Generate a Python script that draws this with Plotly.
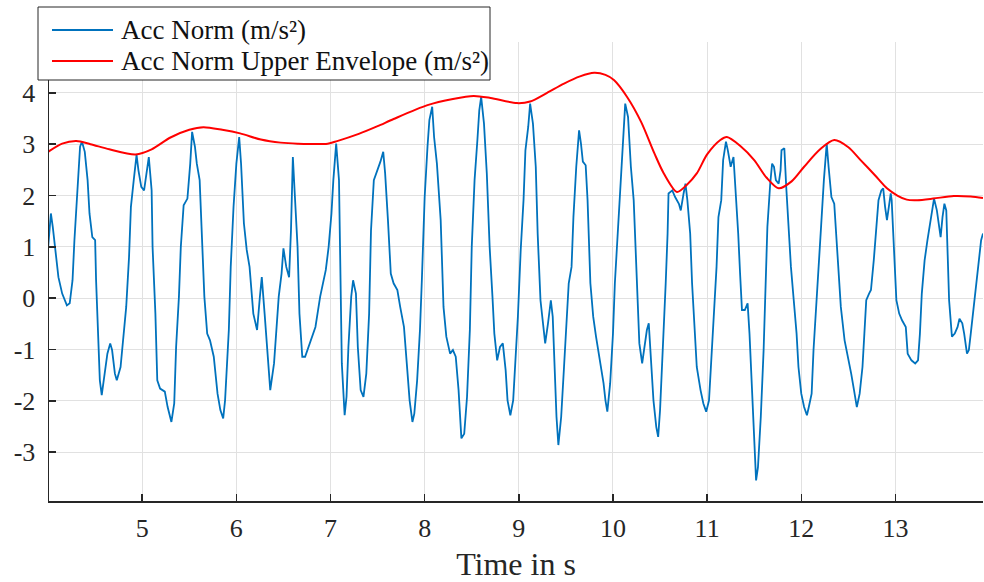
import plotly.graph_objects as go

# ---- data (rows of 10 pairs) ----
acc_t = [
    4.00, 4.03, 4.05, 4.09, 4.11, 4.15, 4.20, 4.23, 4.26, 4.28,
    4.31, 4.34, 4.36, 4.39, 4.42, 4.44, 4.47, 4.50, 4.51, 4.53,
    4.55, 4.57, 4.60, 4.63, 4.66, 4.68, 4.71, 4.73, 4.77, 4.80,
    4.83, 4.86, 4.88, 4.91, 4.94, 4.96, 4.99, 5.02, 5.05, 5.07,
    5.10, 5.11, 5.14, 5.16, 5.19, 5.24, 5.27, 5.31, 5.34, 5.36,
    5.39, 5.41, 5.44, 5.48, 5.51, 5.53, 5.56, 5.58, 5.61, 5.64,
    5.66, 5.69, 5.72, 5.76, 5.80, 5.83, 5.86, 5.88, 5.92, 5.94,
    5.97, 6.00, 6.03, 6.05, 6.08, 6.11, 6.14, 6.18, 6.22, 6.25,
    6.27, 6.30, 6.33, 6.36, 6.40, 6.43, 6.45, 6.48, 6.50, 6.53,
    6.56, 6.58, 6.60, 6.62, 6.65, 6.67, 6.70, 6.73, 6.79, 6.84,
    6.89, 6.95, 6.98, 7.01, 7.03, 7.06, 7.09, 7.11, 7.12, 7.15,
    7.17, 7.19, 7.22, 7.24, 7.27, 7.29, 7.32, 7.35, 7.38, 7.41,
    7.43, 7.46, 7.50, 7.53, 7.56, 7.58, 7.61, 7.64, 7.67, 7.71,
    7.74, 7.78, 7.81, 7.84, 7.87, 7.89, 7.92, 7.95, 7.97, 8.00,
    8.03, 8.05, 8.08, 8.10, 8.13, 8.17, 8.20, 8.23, 8.27, 8.30,
    8.33, 8.36, 8.39, 8.42, 8.45, 8.48, 8.50, 8.53, 8.56, 8.58,
    8.60, 8.63, 8.66, 8.69, 8.72, 8.74, 8.77, 8.80, 8.83, 8.86,
    8.88, 8.91, 8.94, 8.96, 8.99, 9.02, 9.05, 9.07, 9.10, 9.12,
    9.15, 9.18, 9.20, 9.23, 9.26, 9.28, 9.31, 9.34, 9.36, 9.38,
    9.40, 9.42, 9.45, 9.48, 9.51, 9.53, 9.56, 9.58, 9.61, 9.64,
    9.66, 9.68, 9.71, 9.73, 9.76, 9.79, 9.82, 9.86, 9.90, 9.92,
    9.94, 9.97, 10.00, 10.02, 10.05, 10.08, 10.11, 10.13, 10.16, 10.19,
    10.22, 10.24, 10.26, 10.28, 10.31, 10.33, 10.36, 10.38, 10.40, 10.43,
    10.46, 10.48, 10.50, 10.53, 10.56, 10.58, 10.59, 10.63, 10.66, 10.70,
    10.72, 10.75, 10.77, 10.79, 10.82, 10.84, 10.87, 10.89, 10.93, 10.96,
    10.99, 11.02, 11.04, 11.07, 11.10, 11.12, 11.15, 11.17, 11.20, 11.22,
    11.25, 11.28, 11.30, 11.33, 11.35, 11.37, 11.40, 11.43, 11.45, 11.48,
    11.50, 11.52, 11.54, 11.57, 11.60, 11.62, 11.64, 11.67, 11.69, 11.71,
    11.73, 11.76, 11.78, 11.79, 11.82, 11.84, 11.87, 11.89, 11.92, 11.95,
    11.97, 12.00, 12.03, 12.06, 12.08, 12.11, 12.13, 12.16, 12.19, 12.21,
    12.24, 12.27, 12.29, 12.32, 12.35, 12.37, 12.40, 12.42, 12.46, 12.49,
    12.53, 12.56, 12.59, 12.62, 12.65, 12.67, 12.69, 12.72, 12.74, 12.77,
    12.80, 12.82, 12.85, 12.87, 12.89, 12.91, 12.93, 12.95, 12.96, 12.98,
    13.01, 13.04, 13.07, 13.11, 13.13, 13.17, 13.21, 13.24, 13.26, 13.28,
    13.31, 13.34, 13.36, 13.39, 13.41, 13.44, 13.46, 13.48, 13.50, 13.52,
    13.54, 13.55, 13.57, 13.60, 13.63, 13.66, 13.68, 13.71, 13.73, 13.76,
    13.78, 13.80, 13.83, 13.86, 13.88, 13.91, 13.93,
]
acc_norm = [
    0.97, 1.65, 1.39, 0.74, 0.41, 0.09, -0.14, -0.10, 0.35, 1.13,
    2.10, 2.95, 3.05, 2.85, 2.30, 1.65, 1.19, 1.13, 0.35, -0.62,
    -1.60, -1.89, -1.53, -1.08, -0.88, -1.01, -1.47, -1.60, -1.34, -0.82,
    -0.17, 0.80, 1.78, 2.30, 2.79, 2.49, 2.17, 2.10, 2.49, 2.75,
    2.10, 1.00, -0.30, -1.60, -1.76, -1.82, -2.12, -2.41, -2.05, -0.95,
    0.03, 1.00, 1.81, 1.94, 2.62, 3.24, 2.95, 2.62, 2.30, 1.00,
    0.03, -0.69, -0.82, -1.14, -1.86, -2.18, -2.34, -1.99, -0.62, 0.61,
    1.78, 2.62, 3.14, 2.62, 1.46, 0.94, 0.61, -0.30, -0.62, 0.03,
    0.41, -0.30, -1.10, -1.79, -1.27, -0.43, 0.03, 0.48, 0.97, 0.61,
    0.41, 1.32, 2.75, 2.04, 1.00, -0.30, -1.14, -1.14, -0.82, -0.56,
    0.03, 0.55, 1.00, 1.65, 2.30, 3.01, 2.30, 0.03, -1.27, -2.28,
    -1.92, -0.95, 0.03, 0.35, 0.09, -0.95, -1.79, -1.92, -1.47, -0.30,
    1.32, 2.30, 2.49, 2.66, 2.85, 2.43, 1.52, 0.48, 0.29, 0.16,
    -0.17, -0.56, -1.27, -1.99, -2.41, -2.25, -1.60, -0.62, 0.35, 1.97,
    2.95, 3.47, 3.73, 3.14, 2.62, 1.52, -0.17, -0.75, -1.08, -1.01,
    -1.14, -1.79, -2.73, -2.64, -1.92, -0.62, 1.00, 2.30, 3.08, 3.66,
    3.92, 3.40, 2.43, 1.00, 0.03, -0.69, -1.21, -0.95, -0.88, -1.40,
    -1.99, -2.28, -1.99, -1.34, -0.36, 0.94, 1.91, 2.88, 3.34, 3.79,
    3.40, 2.56, 1.26, -0.04, -0.62, -0.88, -0.49, -0.04, -0.36, -1.34,
    -2.31, -2.86, -2.31, -1.34, -0.36, 0.29, 0.61, 1.58, 2.56, 3.27,
    3.01, 2.66, 2.59, 1.91, 0.29, -0.36, -0.75, -1.21, -1.66, -1.99,
    -2.21, -1.66, -0.69, 0.29, 1.26, 2.23, 3.21, 3.79, 3.53, 2.56,
    1.91, 0.94, -0.04, -0.88, -1.27, -1.01, -0.62, -0.49, -1.01, -1.99,
    -2.51, -2.70, -2.18, -1.01, 0.29, 1.26, 2.04, 2.10, 1.97, 1.84,
    1.71, 2.04, 2.23, 1.91, 1.26, 0.29, -0.69, -1.34, -1.79, -2.05,
    -2.21, -1.99, -1.34, -0.36, 0.61, 1.58, 1.91, 2.69, 3.05, 2.88,
    2.56, 2.75, 2.17, 1.26, 0.48, -0.23, -0.23, -0.10, -0.69, -1.99,
    -2.96, -3.55, -3.29, -2.31, -1.01, 0.29, 1.39, 2.23, 2.62, 2.56,
    2.30, 2.23, 2.49, 2.88, 2.92, 2.17, 1.26, 0.61, -0.04, -0.69,
    -1.34, -1.86, -2.12, -2.28, -2.12, -1.86, -1.01, -0.17, 0.61, 1.39,
    2.30, 3.01, 2.56, 1.97, 1.84, 1.26, 0.41, -0.17, -0.82, -1.08,
    -1.47, -1.79, -2.12, -1.86, -1.34, -0.69, -0.04, 0.09, 0.16, 0.74,
    1.39, 1.91, 2.10, 2.14, 1.78, 1.52, 1.78, 2.04, 1.91, 1.07,
    -0.04, -0.30, -0.43, -0.56, -1.08, -1.21, -1.27, -1.21, -0.69, 0.09,
    0.74, 1.13, 1.39, 1.78, 1.94, 1.71, 1.39, 1.19, 1.58, 1.84,
    1.71, 0.94, -0.04, -0.75, -0.69, -0.56, -0.40, -0.49, -0.69, -1.08,
    -1.01, -0.69, -0.17, 0.29, 0.74, 1.13, 1.26,
]

env_t = [4.00, 4.15, 4.30, 4.45, 4.65, 4.93, 5.10, 5.30, 5.50, 5.65,
         5.85, 6.04, 6.26, 6.47, 6.65, 6.97, 7.07, 7.30, 7.50, 7.67,
         8.03, 8.30, 8.52, 8.70, 8.98, 9.12, 9.30, 9.48, 9.65, 9.80,
         9.92, 10.01, 10.15, 10.30, 10.44, 10.54, 10.68, 10.78, 10.89, 11.00,
         11.14, 11.21, 11.35, 11.50, 11.63, 11.76, 11.90, 12.03, 12.20, 12.35,
         12.50, 12.63, 12.78, 12.91, 13.02, 13.12, 13.23, 13.40, 13.62, 13.80,
         13.93]
env_val = [2.85, 3.01, 3.06, 3.00, 2.90, 2.80, 2.90, 3.13, 3.28, 3.33,
           3.28, 3.21, 3.09, 3.03, 3.01, 3.01, 3.06, 3.20, 3.35, 3.49,
           3.76, 3.88, 3.94, 3.90, 3.80, 3.83, 4.00, 4.18, 4.32, 4.39,
           4.35, 4.25, 3.92, 3.43, 2.82, 2.43, 2.07, 2.20, 2.43, 2.80,
           3.08, 3.14, 2.97, 2.69, 2.35, 2.14, 2.28, 2.56, 2.90, 3.08,
           2.94, 2.69, 2.40, 2.14, 2.00, 1.92, 1.91, 1.94, 1.99, 1.98,
           1.95]

assert len(acc_t) == len(acc_norm)
assert len(env_t) == len(env_val)

series_names = ["Acc Norm (m/s²)", "Acc Norm Upper Envelope (m/s²)"]
series_colors = ["#0072BD", "#FF0000"]
x_ticks = [5, 6, 7, 8, 9, 10, 11, 12, 13]
y_ticks = [-3, -2, -1, 0, 1, 2, 3, 4]
x_title = "Time in s"

FONT = "Liberation Serif, Times New Roman, serif"
AXC = "#262626"

# plot-area geometry (pixels)
W, H = 984, 582
L, R, T, B = 49, 1, 42, 81
PW, PH = W - L - R, H - T - B


def px(xp):
    return (xp - L) / PW


def py(yp):
    return (H - B - yp) / PH


fig = go.Figure()
fig.add_trace(go.Scatter(x=acc_t, y=acc_norm, mode="lines", name=series_names[0],
                         line=dict(color=series_colors[0], width=1.8), showlegend=False))
fig.add_trace(go.Scatter(x=env_t, y=env_val, mode="lines", name=series_names[1],
                         line=dict(color=series_colors[1], width=2, shape="spline", smoothing=0.8),
                         showlegend=False))

# legend box drawn in MATLAB style
shapes = [dict(type="rect", xref="paper", yref="paper", x0=px(38), x1=px(490), y0=py(80), y1=py(7),
               fillcolor="white", line=dict(color=AXC, width=1), layer="above")]
annotations = []
for i, (nm, col) in enumerate(zip(series_names, series_colors)):
    yy = 30 + 31 * i
    shapes.append(dict(type="line", xref="paper", yref="paper", x0=px(52), x1=px(113), y0=py(yy), y1=py(yy),
                       line=dict(color=col, width=2), layer="above"))
    annotations.append(dict(xref="paper", yref="paper", x=px(119), y=py(yy), text=nm, showarrow=False,
                            xanchor="left", yanchor="middle",
                            font=dict(family=FONT, size=27, color="#111111")))

fig.update_layout(
    width=W, height=H,
    margin=dict(l=L, r=R, t=T, b=B, autoexpand=False),
    paper_bgcolor="white", plot_bgcolor="white",
    font=dict(family=FONT, color=AXC, size=26),
    showlegend=False,
    shapes=shapes, annotations=annotations,
)
fig.update_xaxes(range=[4.01, 13.93], tickvals=x_ticks, ticktext=[str(v) for v in x_ticks],
                 automargin=False,
                 showgrid=True, gridcolor="#e1e1e1", gridwidth=1, zeroline=False,
                 showline=True, linecolor=AXC, linewidth=1.5, mirror=False,
                 ticks="inside", ticklen=7, tickcolor=AXC, tickwidth=1.5,
                 ticklabelstandoff=3,
                 tickfont=dict(family=FONT, size=26, color=AXC),
                 title=dict(text=x_title, font=dict(family=FONT, size=32, color=AXC), standoff=16))
fig.update_yaxes(range=[-3.95, 4.99], tickvals=y_ticks, ticktext=[str(v) for v in y_ticks],
                 automargin=False,
                 showgrid=True, gridcolor="#e1e1e1", gridwidth=1, zeroline=False,
                 showline=True, linecolor=AXC, linewidth=1.5, mirror=False,
                 ticks="inside", ticklen=7, tickcolor=AXC, tickwidth=1.5,
                 ticklabelstandoff=7,
                 tickfont=dict(family=FONT, size=26, color=AXC))

fig.write_html("out.html", config={"displayModeBar": False, "staticPlot": True},
               post_script="document.body.style.margin='0';document.body.style.overflow='hidden';")
